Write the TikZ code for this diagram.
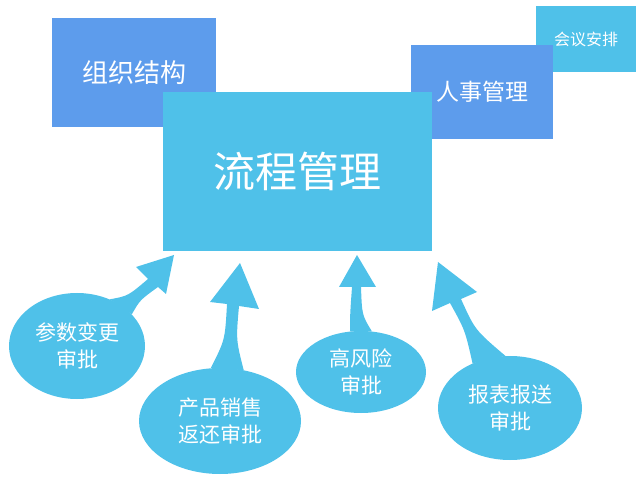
\documentclass[tikz,border=0pt]{standalone}
\usepackage{fontspec}
\setmainfont{Noto Sans CJK SC}
\usetikzlibrary{shapes.geometric}
\definecolor{aqua}{HTML}{4FC1E9}
\definecolor{jeans}{HTML}{5D9CEC}

\begin{document}
\begin{tikzpicture}[x=1pt,y=-1pt,
  tile/.style={fill=#1, text=white, inner sep=0pt},
  bubble/.style={ellipse, fill=aqua, text=white, inner sep=0pt, align=center,
    font=\fontsize{21}{27}\selectfont},
  tail/.style={fill=aqua}]
\useasboundingbox (0,0) rectangle (640,486);
% boxes, back to front
\node[tile=aqua, minimum width=100pt, minimum height=66pt, font=\fontsize{16}{16}\selectfont] (meet) at (586,39) {会议安排};
\node[tile=jeans, minimum width=142pt, minimum height=94pt, font=\fontsize{23}{23}\selectfont] (hr) at (482,92) {人事管理};
\node[tile=jeans, minimum width=164pt, minimum height=109pt, font=\fontsize{26}{26}\selectfont] (org) at (134,72.5) {组织结构};
\node[tile=aqua, minimum width=269pt, minimum height=159pt, font=\fontsize{42}{42}\selectfont] (flow) at (297.5,171.5) {流程管理};
% bubbles
\node[bubble, minimum width=136pt, minimum height=106pt] (param) at (77,346) {参数变更\\审批};
\node[bubble, minimum width=162pt, minimum height=106pt] (sales) at (220,421) {产品销售\\返还审批};
\node[bubble, minimum width=130pt, minimum height=82pt] (risk) at (361,372) {高风险\\审批};
\node[bubble, minimum width=144pt, minimum height=104pt] (report) at (510,408) {报表报送\\审批};
% arrow tips
\coordinate (tipA) at (174,255);
\coordinate (tipB) at (240,263);
\coordinate (tipC) at (357,255);
\coordinate (tipD) at (438,262);
% tails
\fill[tail] (param.55) .. controls (128,296) .. (148,279) -- (136,267) -- (tipA) -- (166,294)
  -- (158,287) .. controls (140,300) .. (param.30) -- cycle;
\fill[tail] (sales.100) .. controls (225,340) .. (227,304) -- (210,302) -- (tipB) -- (259,309)
  -- (239,306) .. controls (236,340) .. (sales.65) -- cycle;
\fill[tail] (risk.105) .. controls (350,315) .. (352,287) -- (339,287) -- (tipC) -- (376,287)
  -- (361,287) .. controls (362,315) .. (risk.75) -- cycle;
\fill[tail] (report.130) .. controls (465,330) .. (450,303) -- (432,311) -- (tipD) -- (477,292)
  -- (461,299) .. controls (475,330) .. (report.95) -- cycle;
\end{tikzpicture}
\end{document}
